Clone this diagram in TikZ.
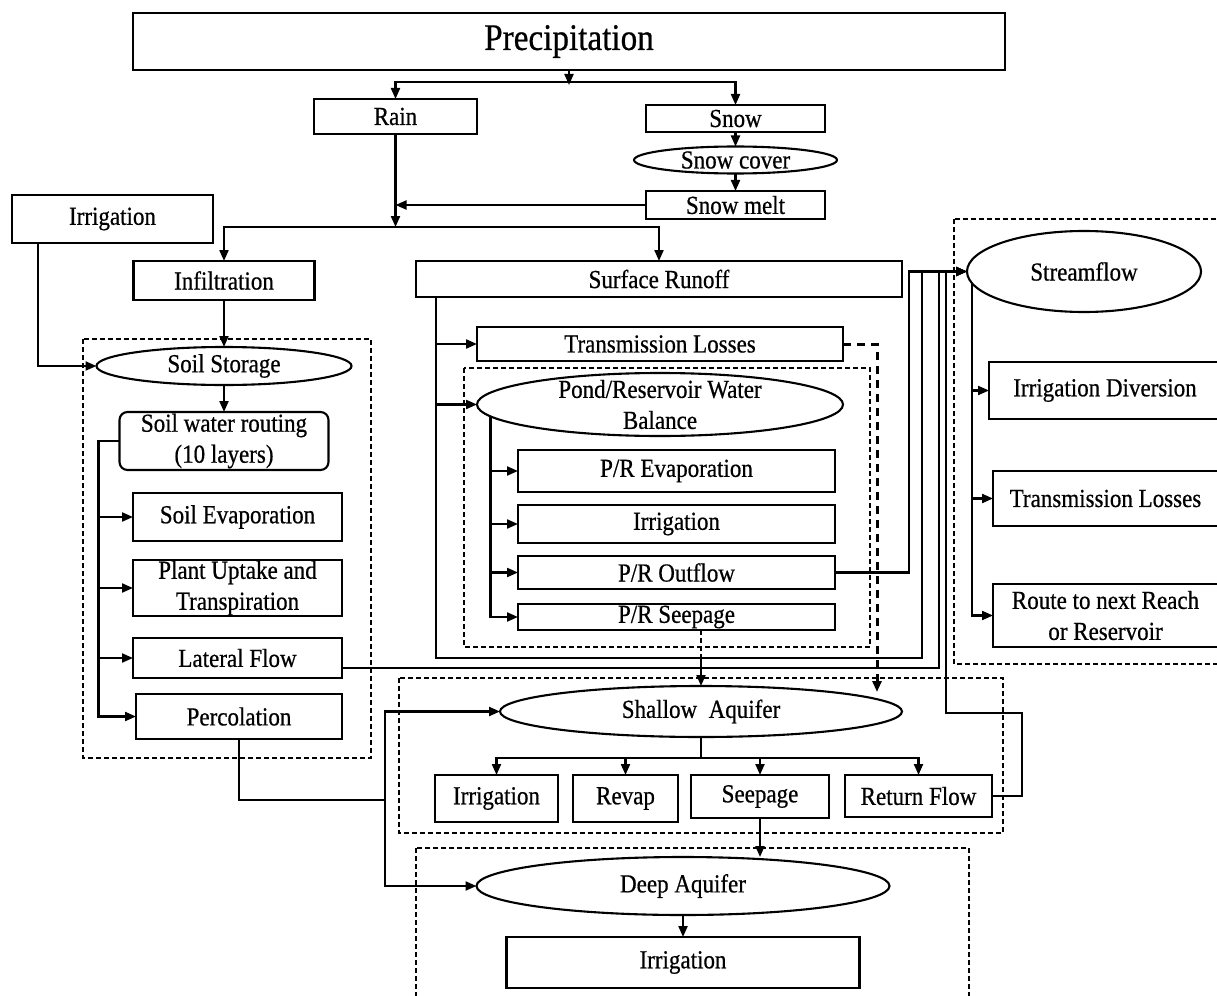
\documentclass[tikz,border=0pt]{standalone}
\usepackage{fontspec}
\setmainfont{Liberation Serif}[FakeStretch=0.885,FakeBold=0.6]
\usetikzlibrary{arrows.meta,shapes.geometric}

\begin{document}
\begin{tikzpicture}[x=1pt,y=-1pt,line width=2.1pt,
  >={Triangle[length=11pt,width=9pt]},
  font=\fontsize{26}{31}\selectfont,
  box/.style={draw,rectangle,inner sep=0pt,outer sep=0pt,align=center,minimum width=#1},
  oval/.style={draw,ellipse,inner sep=0pt,outer sep=0pt,minimum width=#1},
  group/.style={draw,line width=1.6pt,dash pattern=on 5pt off 3pt},
  leak/.style={line width=3pt,dash pattern=on 8pt off 6pt}]
\useasboundingbox (0,0) rectangle (1217,995);

\node[box=872,minimum height=57,font=\fontsize{37.5}{44}\selectfont] (prec) at (569,41.5) {Precipitation};
\node[box=163,minimum height=35] (rain) at (395.5,116.5) {Rain};
\node[box=179,minimum height=27] (snow) at (735.5,118.5) {Snow};
\node[oval=203,minimum height=27] (snow_c) at (735.5,160) {Snow cover};
\node[box=179,minimum height=28] (snow_m) at (735.5,205) {Snow melt};
\node[box=201,minimum height=48] (irr) at (112.5,219) {Irrigation};
\node[box=181,minimum height=39] (infil) at (224,280.5) {Infiltration};
\node[box=486,minimum height=36] (runoff) at (659,279) {Surface Runoff};

\draw[group] (83,339) rectangle (371,758);
\node[oval=255,minimum height=38] (soil_s) at (224,366) {Soil Storage};
\node[box=209,minimum height=58,rounded corners=8pt] (soil_r) at (224,441) {Soil water routing\\(10 layers)};
\node[box=209,minimum height=48] (soil_e) at (237.5,517) {Soil Evaporation};
\node[box=209,minimum height=56] (plant) at (237.5,588) {Plant Uptake and\\Transpiration};
\node[box=209,minimum height=40] (lat_f) at (237.5,658) {Lateral Flow};
\node[box=206,minimum height=45] (perc) at (239,716.5) {Percolation};

\node[box=366,minimum height=34] (trans_l) at (660,344) {Transmission Losses};
\draw[group] (464,368) rectangle (870,647);
\node[oval=366,minimum height=63,label={[align=center]center:Pond/Reservoir Water\\Balance}] (pond) at (660,404.5) {};
\node[box=317,minimum height=42] (pr_e) at (676.5,471) {P/R Evaporation};
\node[box=317,minimum height=38] (pr_i) at (676.5,524) {Irrigation};
\node[box=317,minimum height=33] (pr_o) at (676.5,572.5) {P/R Outflow};
\node[box=317,minimum height=26] (pr_s) at (676.5,617) {P/R Seepage};

\draw[group] (954,219) rectangle (1240,664);
\node[oval=234,minimum height=81] (stream) at (1084,271.5) {Streamflow};
\node[box=232,minimum height=57] (irr_d) at (1105,390.5) {Irrigation Diversion};
\node[box=225,minimum height=55] (trans_r) at (1105.5,498.5) {Transmission Losses};
\node[box=225,minimum height=63] (route) at (1105.5,615.5) {Route to next Reach\\or Reservoir};

\draw[group] (399,678) rectangle (1003,833);
\node[oval=402,minimum height=51] (shal) at (701,711.5) {Shallow\ \ Aquifer};
\node[box=123,minimum height=47] (sh_i) at (496.5,798.5) {Irrigation};
\node[box=105,minimum height=47] (revap) at (625.5,798.5) {Revap};
\node[box=138,minimum height=43] (seep) at (760,796.5) {Seepage};
\node[box=147,minimum height=42] (ret_f) at (918.5,796) {Return Flow};

\draw[group] (416,848) rectangle (969,1010);
\node[oval=413,minimum height=58] (deep) at (683,886) {Deep Aquifer};
\node[box=353,minimum height=51] (dp_i) at (683,962.5) {Irrigation};

\coordinate (b_top) at (569,82);
\coordinate (b_mid) at (395.5,227);
\coordinate (r_bot) at (436,658);
\coordinate (tl_end) at (877,692);
\coordinate (p_j) at (385,800);
\coordinate (rf_top) at (946,713);

\draw[->] (prec.south) -- ++(0,15);
\draw[->] (b_top) -| (rain.north);
\draw[->] (b_top) -| (snow.north);
\path[->] (snow) edge (snow_c) (snow_c) edge (snow_m);
\draw[->] (rain.south) -- (b_mid);
\draw[->] (snow_m.west) -- (snow_m.west -| rain.south);
\draw[->] (b_mid) -| (infil.north);
\draw[->] (b_mid) -| (runoff.north);

\draw[->] ([xshift=26pt]irr.south west) |- (soil_s.west);
\path[->] (infil) edge (soil_s) (soil_s) edge (soil_r);
\foreach \n in {soil_e,plant,lat_f,perc}
  \draw[->] (soil_r.west) -- ++(-21,0) |- (\n.west);
\draw[->] ([yshift=-10pt]lat_f.east) -| ([xshift=-28pt]stream.west) -- (stream.west);

\draw[->] ([xshift=20pt]runoff.south west) -- (r_bot) -| ([xshift=-45pt]stream.west) -- (stream.west);
\draw[->] ([xshift=20pt]runoff.south west) |- (trans_l.west);
\draw[->] ([xshift=20pt]runoff.south west) |- (pond.west);
\foreach \n in {pr_e,pr_i,pr_o,pr_s}
  \draw[->] (pond.184) |- (\n.west);
\draw[->] (pr_o.east) -| ([xshift=-58pt]stream.west) -- (stream.west);
\draw[group] (pr_s.south -| shal.north) -- (r_bot -| shal.north);
\draw[->] (r_bot -| shal.north) -- (shal.north);
\draw[leak,->] (trans_l.east) -| (tl_end);

\foreach \n in {irr_d,trans_r,route}
  \draw[->] (stream.186) |- (\n.west);

\draw (perc.south) |- (p_j);
\draw[->] (p_j) |- (shal.west);
\draw[->] (p_j) |- (deep.west);

\foreach \n in {sh_i,revap,seep,ret_f}
  \draw[->] (shal.south) -- ++(0,21) -| (\n.north);
\draw[->] (ret_f.east) -- ++(30,0) |- (rf_top) -- (rf_top |- stream.west) -- (stream.west);
\draw[->] (seep.south) -- (seep.south |- deep.north);
\path[->] (deep) edge (dp_i);
\end{tikzpicture}
\end{document}
